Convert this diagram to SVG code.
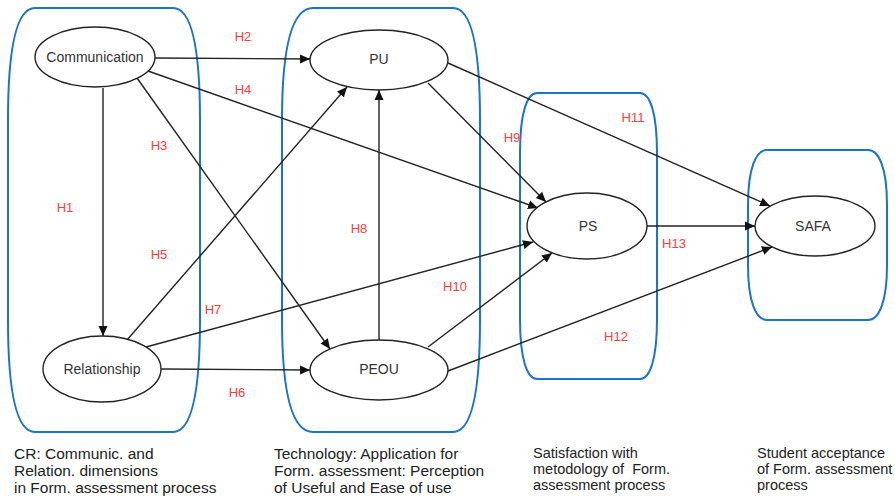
<svg xmlns="http://www.w3.org/2000/svg" width="895" height="498" viewBox="0 0 895 498">
<style>
.box{fill:none;stroke:#1874cd;stroke-width:2}
.node ellipse{fill:#fff;stroke:#222;stroke-width:1.4}
.node text{font-family:"Liberation Sans",Arial,sans-serif;font-size:14px;fill:#333;text-anchor:middle;dominant-baseline:central}
.edge{fill:none;stroke:#222;stroke-width:1.4}
.lbl{font-family:"Liberation Sans",Arial,sans-serif;font-size:13px;fill:#ff3b3b;text-anchor:middle}
.cap{font-family:"Liberation Sans",Arial,sans-serif;font-size:15.5px;fill:#222}
.cap2{font-family:"Liberation Sans",Arial,sans-serif;font-size:14.5px;fill:#222}
</style>
<defs>
<marker id="arr" viewBox="0 0 10 10" refX="10" refY="5" markerWidth="10" markerHeight="10" markerUnits="userSpaceOnUse" orient="auto">
<path d="M0,0.5 L10,5 L0,9.5 Z" fill="#111"/>
</marker>
</defs>
<g id="containers">
<path class="box" d="M35,8 H173 C190,8 200,40 200,120 V320 C200,400 190,432 173,432 H35 C18,432 8,400 8,320 V120 C8,40 18,8 35,8 Z"/>
<path class="box" d="M313,8 H453 C470,8 480,40 480,120 V320 C480,400 470,432 453,432 H313 C294,432 282,400 282,320 V120 C282,40 294,8 313,8 Z"/>
<path class="box" d="M537,93 H640 C650,93 657,113 657,153 V319 C657,359 650,379 640,379 H537 C527,379 520,359 520,319 V153 C520,113 527,93 537,93 Z"/>
<path class="box" d="M767,150 H868 C879,150 887,168 887,205 V265 C887,302 879,320 868,320 H767 C756,320 748,302 748,265 V205 C748,168 756,150 767,150 Z"/>
</g>
<g id="connectors">
<path class="edge" marker-end="url(#arr)" d="M103,88 L103,336"/>
<path class="edge" marker-end="url(#arr)" d="M155,58 L310,59"/>
<path class="edge" marker-end="url(#arr)" d="M137,78 L330,349"/>
<path class="edge" marker-end="url(#arr)" d="M148,71 L538,208"/>
<path class="edge" marker-end="url(#arr)" d="M127,340 L347,87"/>
<path class="edge" marker-end="url(#arr)" d="M146,347 L533,242"/>
<path class="edge" marker-end="url(#arr)" d="M161,369 L310,370"/>
<path class="edge" marker-end="url(#arr)" d="M379,340 L379,90"/>
<path class="edge" marker-end="url(#arr)" d="M428,83 L546,202"/>
<path class="edge" marker-end="url(#arr)" d="M428,347 L552,253"/>
<path class="edge" marker-end="url(#arr)" d="M448,63 L770,206"/>
<path class="edge" marker-end="url(#arr)" d="M448,371 L772,247"/>
<path class="edge" marker-end="url(#arr)" d="M647,226 L755,226"/>
</g>
<g id="Communication" class="node"><ellipse cx="95" cy="57" rx="60" ry="30"/><text x="95" y="57">Communication</text></g>
<g id="Relationship" class="node"><ellipse cx="102" cy="369" rx="59" ry="33"/><text x="102" y="369">Relationship</text></g>
<g id="PU" class="node"><ellipse cx="379" cy="60" rx="69" ry="30"/><text x="379" y="59">PU</text></g>
<g id="PEOU" class="node"><ellipse cx="379" cy="370" rx="69" ry="30"/><text x="379" y="369">PEOU</text></g>
<g id="PS" class="node"><ellipse cx="587" cy="226" rx="60" ry="33"/><text x="588" y="226">PS</text></g>
<g id="SAFA" class="node"><ellipse cx="815" cy="226" rx="60" ry="30"/><text x="813" y="226">SAFA</text></g>
<g id="labels">
<text class="lbl" x="243" y="41">H2</text>
<text class="lbl" x="243" y="94">H4</text>
<text class="lbl" x="159" y="150">H3</text>
<text class="lbl" x="65" y="212">H1</text>
<text class="lbl" x="159" y="259">H5</text>
<text class="lbl" x="213" y="314">H7</text>
<text class="lbl" x="237" y="397">H6</text>
<text class="lbl" x="359" y="233">H8</text>
<text class="lbl" x="512" y="142">H9</text>
<text class="lbl" x="455" y="291">H10</text>
<text class="lbl" x="633" y="122">H11</text>
<text class="lbl" x="674" y="248">H13</text>
<text class="lbl" x="616" y="341">H12</text>
</g>
<g id="captions">
<text class="cap" x="14" y="459">CR: Communic. and</text>
<text class="cap" x="14" y="476">Relation. dimensions</text>
<text class="cap" x="14" y="493">in Form. assessment process</text>
<text class="cap" x="274" y="459">Technology: Application for</text>
<text class="cap" x="274" y="476">Form. assessment: Perception</text>
<text class="cap" x="274" y="493">of Useful and Ease of use</text>
<text class="cap2" x="533" y="458">Satisfaction with</text>
<text class="cap2" x="533" y="474">metodology of&#160; Form.</text>
<text class="cap2" x="533" y="490">assessment process</text>
<text class="cap2" x="757" y="458">Student acceptance</text>
<text class="cap2" x="757" y="474">of Form. assessment</text>
<text class="cap2" x="757" y="490">process</text>
</g>
</svg>
